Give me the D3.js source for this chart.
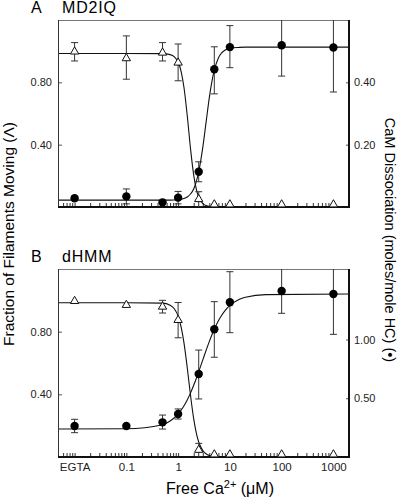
<!DOCTYPE html>
<html>
<head>
<meta charset="utf-8">
<script src="https://cdn.jsdelivr.net/npm/d3@7"></script>
<style>
body { margin: 0; background: #fff; }
svg { font-family: Arial, "Liberation Sans", sans-serif; }
.tick text { font-size: 11px; fill: #222; }
</style>
</head>
<body>
<svg id="chart" width="399" height="499"></svg>
<script>
// free Ca2+ (uM); the EGTA point sits at 0.01
const conc = [0.01, 0.1, 0.5, 1, 2.5, 5, 10, 100, 1000];
const xTickVals = [0.01, 0.1, 1, 10, 100, 1000];
const xTickLabels = ['EGTA', '0.1', '1', '10', '100', '1000'];

// panel A - MD2IQ
const mdMoving   = [0.997, 0.954, 0.99, 0.926, 0.05, 0, 0, 0, 0];
const mdMovingLo = [0.937, 0.82, 0.937, 0.81, 0, 0, 0, 0, 0];
const mdMovingHi = [1.055, 1.098, 1.055, 1.046, 0.098, 0, 0, 0, 0];
const mdCaM   = [0.028, 0.034, 0.015, 0.030, 0.113, 0.442, 0.513, 0.519, 0.512];
const mdCaMLo = [0.028, 0.010, 0.015, 0.010, 0.081, 0.363, 0.447, 0.42, 0.369];
const mdCaMHi = [0.028, 0.058, 0.015, 0.050, 0.145, 0.514, 0.582, 0.65, 0.65];

// panel B - dHMM
const hmmMoving   = [0.995, 0.97, 0.959, 0.874, 0.045, 0, 0, 0, 0];
const hmmMovingLo = [0.995, 0.97, 0.919, 0.761, 0, 0, 0, 0, 0];
const hmmMovingHi = [0.995, 0.97, 1.0, 0.986, 0.087, 0, 0, 0, 0];
const hmmCaM   = [0.264, 0.264, 0.295, 0.366, 0.706, 1.087, 1.317, 1.413, 1.387];
const hmmCaMLo = [0.207, 0.264, 0.238, 0.323, 0.494, 0.849, 1.058, 1.223, 1.044];
const hmmCaMHi = [0.321, 0.264, 0.357, 0.409, 0.91, 1.322, 1.577, 1.65, 1.65];

// fitted curves
const fitConc = [0.005, 0.1, 0.5, 0.7, 0.85, 1, 1.15, 1.3, 1.5, 1.75, 2, 2.3, 2.5, 3, 3.5, 4, 4.5, 5, 6, 7, 8, 10, 15, 20, 50, 2000];
const mdMovingFit  = [0.985, 0.985, 0.984, 0.978, 0.963, 0.93, 0.866, 0.765, 0.587, 0.363, 0.205, 0.1, 0.063, 0.022, 0.009, 0.004, 0.002, 0.001, 0, 0, 0, 0, 0, 0, 0, 0];
const mdCaMFit     = [0.022, 0.022, 0.022, 0.022, 0.0227, 0.0236, 0.025, 0.027, 0.032, 0.0425, 0.058, 0.088, 0.113, 0.192, 0.277, 0.35, 0.403, 0.439, 0.478, 0.495, 0.503, 0.509, 0.512, 0.513, 0.513, 0.513];
const hmmMovingFit = [0.985, 0.985, 0.982, 0.969, 0.945, 0.9, 0.826, 0.727, 0.571, 0.384, 0.243, 0.138, 0.096, 0.041, 0.019, 0.01, 0.0056, 0.0033, 0.001, 0, 0, 0, 0, 0, 0, 0];
const hmmCaMFit    = [0.238, 0.240, 0.274, 0.306, 0.334, 0.366, 0.400, 0.436, 0.486, 0.548, 0.61, 0.682, 0.726, 0.827, 0.912, 0.982, 1.04, 1.087, 1.159, 1.209, 1.244, 1.29, 1.341, 1.36, 1.382, 1.387];

class DosePanel {
    constructor(_config, _data) {
        this.config = {
            parentElement: _config.parentElement,
            id: _config.id,
            top: _config.top,
            height: _config.height,
            left: 59,
            width: 290,
            leftMax: _config.leftMax,
            rightMax: _config.rightMax,
            rightTicks: _config.rightTicks,
            letter: _config.letter,
            title: _config.title,
            showXLabels: _config.showXLabels
        };
        this.data = _data;
        this.initVis();
    }

    initVis() {
        let vis = this;
        const c = vis.config;
        vis.svg = d3.select(c.parentElement);
        vis.bottom = c.top + c.height;
        vis.right = c.left + c.width;

        vis.xScale = d3.scaleLog().domain([0.005, 2000]).range([c.left, vis.right]);
        vis.yLeft = d3.scaleLinear().domain([0, c.leftMax]).range([vis.bottom, c.top]);
        vis.yRight = d3.scaleLinear().domain([0, c.rightMax]).range([vis.bottom, c.top]);

        vis.svg.append('clipPath').attr('id', 'clip-' + c.id)
            .append('rect')
            .attr('x', c.left).attr('y', c.top)
            .attr('width', c.width).attr('height', c.height);

        vis.renderVis();
    }

    renderVis() {
        let vis = this;
        const c = vis.config;
        const d = vis.data;

        // minor ticks (inward)
        const minor = vis.xScale.ticks().filter(v => v > 0.0051 && v < 1999 && !xTickVals.includes(v));
        vis.svg.append('g')
            .attr('transform', `translate(0,${vis.bottom})`)
            .call(d3.axisBottom(vis.xScale).tickValues(minor).tickFormat('').tickSizeInner(-4).tickSizeOuter(0))
            .call(g => g.select('.domain').remove())
            .call(g => g.selectAll('line').attr('stroke', '#333'));

        const xAxis = d3.axisBottom(vis.xScale)
            .tickValues(xTickVals)
            .tickSizeInner(-4).tickSizeOuter(0)
            .tickPadding(6)
            .tickFormat((v, i) => c.showXLabels ? xTickLabels[i] : '');
        vis.svg.append('g')
            .attr('transform', `translate(0,${vis.bottom})`)
            .call(xAxis)
            .call(g => g.select('.domain').remove())
            .call(g => g.selectAll('line').attr('stroke', '#333'))
            .call(g => g.selectAll('text').style('font-size', '11.5px'));

        vis.svg.append('g')
            .attr('transform', `translate(${c.left},0)`)
            .call(d3.axisLeft(vis.yLeft).tickValues([0.4, 0.8]).tickFormat(d3.format('.2f'))
                .tickSizeInner(-3).tickSizeOuter(0).tickPadding(7))
            .call(g => g.select('.domain').remove())
            .call(g => g.selectAll('line').attr('stroke', '#555'));

        vis.svg.append('g')
            .attr('transform', `translate(${vis.right},0)`)
            .call(d3.axisRight(vis.yRight).tickValues(c.rightTicks).tickFormat(d3.format('.2f'))
                .tickSizeInner(-3).tickSizeOuter(0).tickPadding(5))
            .call(g => g.select('.domain').remove())
            .call(g => g.selectAll('line').attr('stroke', '#555'));

        // frame
        vis.svg.append('line').attr('x1', c.left).attr('x2', vis.right)
            .attr('y1', c.top + 0.5).attr('y2', c.top + 0.5)
            .attr('stroke', '#777').attr('stroke-width', 1);
        vis.svg.append('line').attr('x1', c.left - 0.5).attr('x2', c.left - 0.5)
            .attr('y1', c.top).attr('y2', vis.bottom)
            .attr('stroke', '#333').attr('stroke-width', 1);
        vis.svg.append('line').attr('x1', c.left - 1).attr('x2', vis.right + 1)
            .attr('y1', vis.bottom).attr('y2', vis.bottom)
            .attr('stroke', '#111').attr('stroke-width', 2);
        vis.svg.append('line').attr('x1', vis.right).attr('x2', vis.right)
            .attr('y1', c.top).attr('y2', vis.bottom + 1)
            .attr('stroke', '#111').attr('stroke-width', 2);

        const plot = vis.svg.append('g').attr('clip-path', `url(#clip-${c.id})`);

        // fitted lines
        const fitLeft = d3.line().x((v, i) => vis.xScale(fitConc[i])).y(v => vis.yLeft(v)).curve(d3.curveMonotoneX);
        const fitRight = d3.line().x((v, i) => vis.xScale(fitConc[i])).y(v => vis.yRight(v)).curve(d3.curveMonotoneX);
        plot.append('path').attr('d', fitLeft(d.movingFit))
            .attr('fill', 'none').attr('stroke', '#111').attr('stroke-width', 1.1);
        plot.append('path').attr('d', fitRight(d.camFit))
            .attr('fill', 'none').attr('stroke', '#111').attr('stroke-width', 1.1);

        // error bars
        const drawErr = (vals, lo, hi, y) => {
            const rows = conc.map((x, i) => ({x: x, lo: lo[i], hi: hi[i]})).filter(r => r.hi - r.lo > 0.001);
            const g = plot.append('g').attr('stroke', '#333').attr('stroke-width', 1);
            g.selectAll('.bar').data(rows).join('line')
                .attr('x1', r => vis.xScale(r.x)).attr('x2', r => vis.xScale(r.x))
                .attr('y1', r => y(r.lo)).attr('y2', r => y(r.hi));
            g.selectAll('.caplo').data(rows).join('line')
                .attr('x1', r => vis.xScale(r.x) - 3.5).attr('x2', r => vis.xScale(r.x) + 3.5)
                .attr('y1', r => y(r.lo)).attr('y2', r => y(r.lo));
            g.selectAll('.caphi').data(rows).join('line')
                .attr('x1', r => vis.xScale(r.x) - 3.5).attr('x2', r => vis.xScale(r.x) + 3.5)
                .attr('y1', r => y(r.hi)).attr('y2', r => y(r.hi));
        };
        drawErr(d.moving, d.movingLo, d.movingHi, vis.yLeft);
        drawErr(d.cam, d.camLo, d.camHi, vis.yRight);

        // CaM dissociation points
        plot.selectAll('.cam').data(d.cam).join('circle')
            .attr('cx', (v, i) => vis.xScale(conc[i]))
            .attr('cy', v => vis.yRight(v))
            .attr('r', 4.2)
            .attr('fill', '#000');

        // fraction moving (open triangles)
        const tri = d3.symbol().type(d3.symbolTriangle).size(30);
        vis.svg.append('g').selectAll('path').data(d.moving).join('path')
            .attr('d', tri)
            .attr('transform', (v, i) => `translate(${vis.xScale(conc[i])},${Math.min(vis.yLeft(v), vis.bottom - 2.5)})`)
            .attr('fill', '#fff').attr('stroke', '#111').attr('stroke-width', 1);

        // panel labels
        vis.svg.append('text').attr('x', 31).attr('y', c.top - 7)
            .style('font-size', '16px').text(c.letter);
        vis.svg.append('text').attr('x', 62).attr('y', c.top - 7)
            .style('font-size', '16px').style('letter-spacing', '0.8px').text(c.title);
    }
}

const panelA = new DosePanel({
    parentElement: '#chart', id: 'a', top: 20, height: 187,
    leftMax: 1.2, rightMax: 0.6, rightTicks: [0.2, 0.4],
    letter: 'A', title: 'MD2IQ', showXLabels: false
}, {
    moving: mdMoving, movingLo: mdMovingLo, movingHi: mdMovingHi,
    cam: mdCaM, camLo: mdCaMLo, camHi: mdCaMHi,
    movingFit: mdMovingFit, camFit: mdCaMFit
});

const panelB = new DosePanel({
    parentElement: '#chart', id: 'b', top: 269, height: 188,
    leftMax: 1.2, rightMax: 1.6, rightTicks: [0.5, 1.0],
    letter: 'B', title: 'dHMM', showXLabels: true
}, {
    moving: hmmMoving, movingLo: hmmMovingLo, movingHi: hmmMovingHi,
    cam: hmmCaM, camLo: hmmCaMLo, camHi: hmmCaMHi,
    movingFit: hmmMovingFit, camFit: hmmCaMFit
});

// axis titles
const svg = d3.select('#chart');
svg.append('text')
    .attr('transform', 'translate(14,234) rotate(-90)')
    .attr('text-anchor', 'middle')
    .style('font-size', '15.5px')
    .text('Fraction of Filaments Moving (Λ)');

svg.append('text')
    .attr('transform', 'translate(385,240) rotate(90)')
    .attr('text-anchor', 'middle')
    .style('font-size', '14.5px')
    .text('CaM Dissociation (moles/mole HC) (•)');

const xTitle = svg.append('text')
    .attr('x', 166).attr('y', 494)
    .style('font-size', '16px');
xTitle.append('tspan').text('Free Ca');
xTitle.append('tspan').attr('dy', -6).style('font-size', '11px').text('2+');
xTitle.append('tspan').attr('dy', 6).text(' (μM)');
</script>
</body>
</html>
